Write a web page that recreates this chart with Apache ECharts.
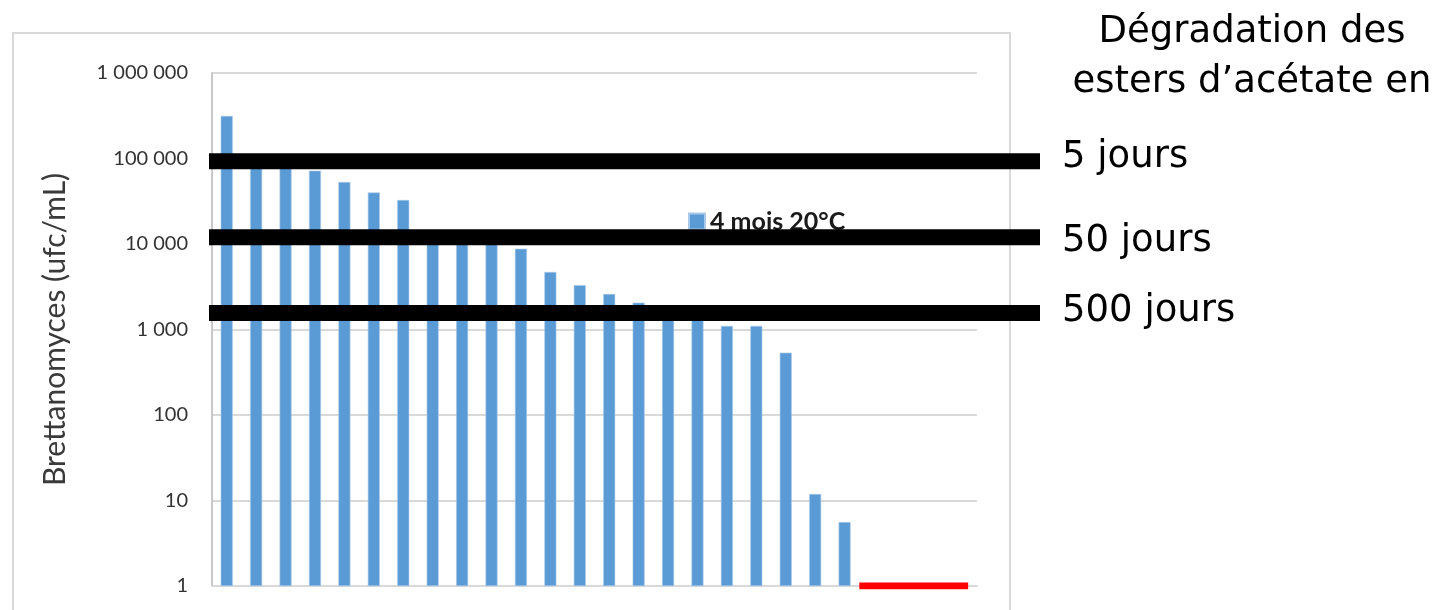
<!DOCTYPE html>
<html>
<head>
<meta charset="utf-8">
<script src="https://cdn.jsdelivr.net/npm/echarts@6/dist/echarts.min.js"></script>
<style>
  html, body { margin: 0; padding: 0; background: #ffffff; }
  #chart { width: 1443px; height: 610px; }
</style>
</head>
<body>
<div id="chart"></div>
<script>
// Samples (one bar each); the last four were below the detection limit
const categories = ['1','2','3','4','5','6','7','8','9','10','11','12','13',
                    '14','15','16','17','18','19','20','21','22','23','24','25','26'];
// Brettanomyces counts (ufc/mL) after 4 months at 20 °C
const counts = [315000, 90000, 85000, 72000, 53000, 40000, 32700, 13000, 12000, 11500,
                8800, 4700, 3300, 2600, 2060, 1600, 1400, 1100, 1100, 536, 11.9, 5.6,
                null, null, null, null];
const seriesName = '4 mois 20°C';
// Span (in sample units) of the "not detected" marker at the bottom
const undetectedSpan = [22, 25.7];
// Population thresholds for acetate-ester degradation
const thresholds = [93000, 12000, 1560];
const thresholdLabels = ['5 jours', '50 jours', '500 jours'];
const sideTitle = ['Dégradation des', 'esters d\u2019acétate en'];
const yTicks = [1, 10, 100, 1000, 10000, 100000, 1000000];

function spaced(v) {
  return String(Math.round(v)).replace(/\B(?=(\d{3})+(?!\d))/g, ' ');
}

const chart = echarts.init(document.getElementById('chart'), null, { renderer: 'canvas' });

const thresholdSeries = thresholds.map(v => ({
  type: 'line',
  xAxisIndex: 2,
  yAxisIndex: 1,
  data: [[0, v], [1, v]],
  symbol: 'none',
  silent: true,
  lineStyle: { color: '#000000', width: 16, cap: 'butt' },
  z: 10
}));

const labelCentres = [157, 241, 311];
const graphics = [
  {
    type: 'rect',
    shape: { x: 13, y: 33, width: 997, height: 600 },
    style: { fill: 'none', stroke: '#d9d9d9', lineWidth: 2 },
    z: 0
  },
  {
    type: 'text',
    style: { text: sideTitle[0], x: 1252, y: 32, fontSize: 37, fontFamily: 'DejaVu Sans',
             fill: '#000000', align: 'center', verticalAlign: 'middle' }
  },
  {
    type: 'text',
    style: { text: sideTitle[1], x: 1252, y: 82, fontSize: 37, fontFamily: 'DejaVu Sans',
             fill: '#000000', align: 'center', verticalAlign: 'middle' }
  }
].concat(thresholdLabels.map((t, i) => ({
  type: 'text',
  style: { text: t, x: 1062, y: labelCentres[i], fontSize: 37, fontFamily: 'DejaVu Sans',
           fill: '#000000', align: 'left', verticalAlign: 'middle' }
})));

const option = {
  animation: false,
  backgroundColor: '#ffffff',
  textStyle: { fontFamily: 'Lato' },
  graphic: graphics,
  legend: {
    data: [seriesName],
    left: 683,
    top: 204,
    icon: 'rect',
    itemWidth: 16,
    itemHeight: 16,
    itemGap: 8,
    textStyle: { fontFamily: 'Lato', fontWeight: 'bold', fontSize: 25, color: '#1a1a1a' }
  },
  grid: [
    { left: 212, right: 466, top: 73, bottom: 24 },
    { left: 209, right: 403, top: 73, bottom: 24 }
  ],
  xAxis: [
    {
      type: 'category', gridIndex: 0, data: categories,
      axisLine: { lineStyle: { color: '#d9d9d9', width: 2 } },
      axisTick: { show: false },
      axisLabel: { show: false }
    },
    { type: 'value', gridIndex: 0, min: 0, max: categories.length, show: false },
    { type: 'value', gridIndex: 1, min: 0, max: 1, show: false }
  ],
  yAxis: [
    {
      type: 'log', logBase: 10, gridIndex: 0,
      min: yTicks[0], max: yTicks[yTicks.length - 1],
      name: 'Brettanomyces (ufc/mL)',
      nameLocation: 'middle',
      nameRotate: 90,
      nameGap: 142,
      nameTextStyle: { fontFamily: 'Lato', fontSize: 30, color: '#3a3a3a' },
      axisLine: { show: true, lineStyle: { color: '#c8c8c8', width: 2 } },
      axisTick: { show: false },
      axisLabel: { margin: 24, fontSize: 20, color: '#333333', formatter: v => spaced(v) },
      splitLine: { show: true, lineStyle: { color: '#d9d9d9', width: 2 } }
    },
    {
      type: 'log', logBase: 10, gridIndex: 1,
      min: yTicks[0], max: yTicks[yTicks.length - 1], show: false
    }
  ],
  series: [
    {
      name: seriesName,
      type: 'bar',
      xAxisIndex: 0,
      yAxisIndex: 0,
      data: counts,
      barWidth: 12,
      itemStyle: { color: '#5b9bd5', borderColor: '#a9c9ea', borderWidth: 0.6 },
      z: 2
    },
    {
      type: 'line',
      xAxisIndex: 1,
      yAxisIndex: 0,
      data: undetectedSpan.map(x => [x, yTicks[0]]),
      symbol: 'none',
      silent: true,
      lineStyle: { color: '#ff0000', width: 7, cap: 'butt' },
      z: 5
    }
  ].concat(thresholdSeries)
};

chart.setOption(option);
</script>
</body>
</html>
